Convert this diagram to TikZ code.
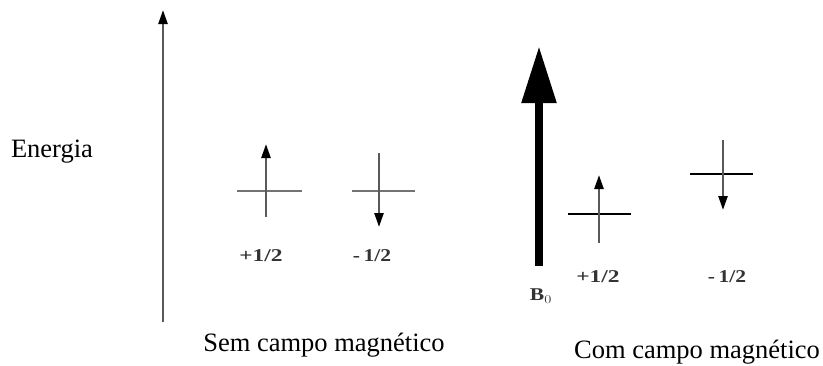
\documentclass[tikz,border=0pt]{standalone}
\usepackage{fontspec}
\usepackage{graphicx}
\setmainfont{Liberation Serif}
\usetikzlibrary{arrows.meta}
\begin{document}
\begin{tikzpicture}[x=1pt,y=-1pt,
  big/.style={font=\fontsize{26.5}{30}\selectfont, inner sep=0pt, anchor=base},
  small/.style={font=\fontsize{18}{22}\selectfont\bfseries, inner sep=0pt, text=black!80},
  thinarrow/.style={line width=2.4pt, draw=black!65, -{Triangle[length=14,width=9,black]}},
  graybar/.style={line width=2.4pt, draw=black!55},
  blackbar/.style={line width=2.2pt, draw=black},
  bigarrow/.style={line width=8.5pt, draw=black, -{Triangle[length=57,width=33,black]}}]
\useasboundingbox (0,0) rectangle (823,365);
% left axis
\coordinate (ax0) at (163,322);
\coordinate (ax1) at (163,10);
\draw[thinarrow] (ax0) -- (ax1);
\node[big] (energia) at (52,157) {Energia};
% no field, +1/2
\coordinate (u0) at (266,217);
\coordinate (u1) at (266,144);
\coordinate (ub0) at (237,191);
\coordinate (ub1) at (302,191);
\draw[graybar] (ub0) -- (ub1);
\draw[thinarrow] (u0) -- (u1);
% no field, -1/2
\coordinate (d0) at (379,153);
\coordinate (d1) at (379,227);
\coordinate (db0) at (352,191);
\coordinate (db1) at (415,191);
\draw[graybar] (db0) -- (db1);
\draw[thinarrow] (d0) -- (d1);
\node[small] (lp) at (261,256) {\scalebox{1.3}[1]{+1/2}};
\node[small] (lm) at (372,256) {\scalebox{1.2}[1]{-\,1/2}};
\node[big] (sem) at (324,351) {Sem campo magnético};
% field
\coordinate (b0) at (539,266);
\coordinate (b1) at (539,46);
\draw[bigarrow] (b0) -- (b1);
\node[small] (B) at (541,296) {\scalebox{1.2}[1]{B$_0$}};
% with field +1/2
\coordinate (fu0) at (599,243);
\coordinate (fu1) at (599,175);
\coordinate (fub0) at (568,214);
\coordinate (fub1) at (631,214);
\draw[blackbar] (fub0) -- (fub1);
\draw[thinarrow] (fu0) -- (fu1);
% with field -1/2
\coordinate (fd0) at (723,140);
\coordinate (fd1) at (723,210);
\coordinate (fdb0) at (690,174);
\coordinate (fdb1) at (753,174);
\draw[blackbar] (fdb0) -- (fdb1);
\draw[thinarrow] (fd0) -- (fd1);
\node[small] (flp) at (598,277) {\scalebox{1.3}[1]{+1/2}};
\node[small] (flm) at (727,277) {\scalebox{1.2}[1]{-\,1/2}};
\node[big] (com) at (697,358) {Com campo magnético};
\end{tikzpicture}
\end{document}
